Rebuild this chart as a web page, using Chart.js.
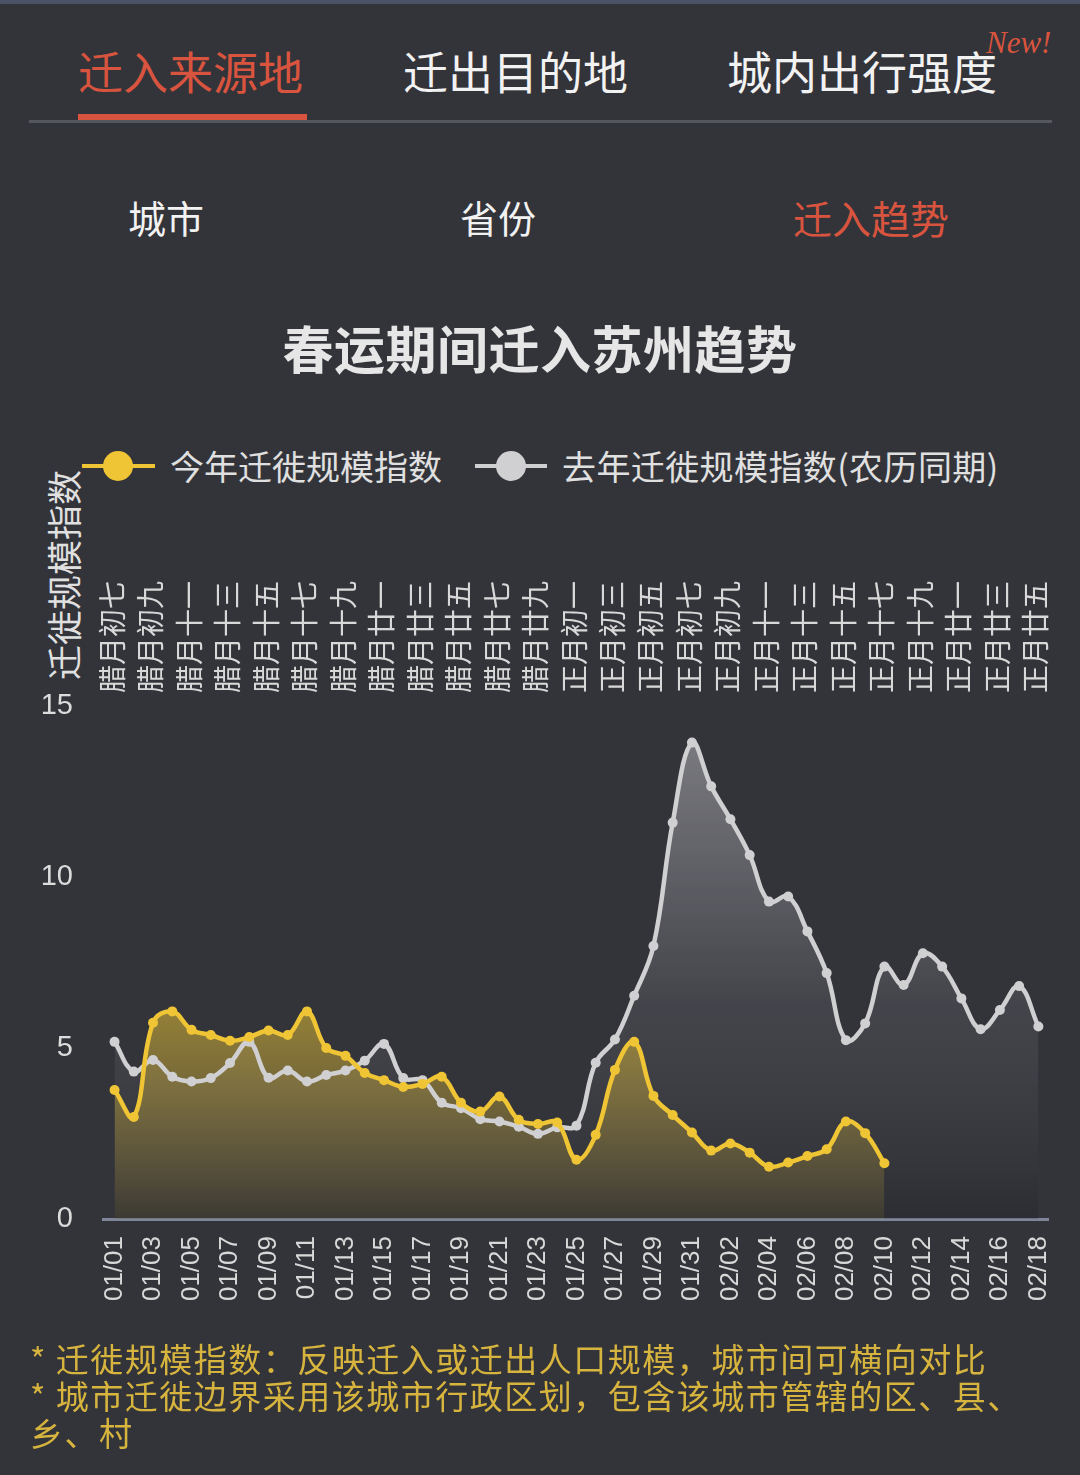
<!DOCTYPE html>
<html><head><meta charset="utf-8">
<script src="https://cdn.jsdelivr.net/npm/chart.js@4.4.1/dist/chart.umd.min.js"></script>
<style>
html,body{margin:0;padding:0;}
body{width:1080px;height:1475px;background:#33343a;position:relative;overflow:hidden;font-family:"Noto Sans CJK SC","Liberation Sans",sans-serif;}
.t{position:absolute;white-space:nowrap;line-height:1;transform:translateY(-50%);}
.ln{position:absolute;height:4px;}
.dot{position:absolute;width:30px;height:30px;border-radius:50%;}
</style></head><body>
<div style="position:absolute;left:0;top:0;width:1080px;height:4px;background:#4a5366"></div>
<div class="t" style="left:78px;top:70px;font-size:45px;color:#d9543e">迁入来源地</div>
<div class="t" style="left:403px;top:70px;font-size:45px;color:#f2f2f2">迁出目的地</div>
<div class="t" style="left:727px;top:70px;font-size:45px;color:#f2f2f2">城内出行强度</div>
<div class="t" style="left:986px;top:42px;font-size:31px;color:#d9543e;font-family:'Liberation Serif',serif;font-style:italic">New!</div>
<div style="position:absolute;left:29px;top:120px;width:1023px;height:3px;background:#55575e"></div>
<div style="position:absolute;left:78px;top:114px;width:229px;height:6px;background:#d9543e"></div>
<div class="t" style="left:128px;top:217px;font-size:38px;color:#f2f2f2">城市</div>
<div class="t" style="left:460px;top:217px;font-size:38px;color:#f2f2f2">省份</div>
<div class="t" style="left:793px;top:217px;font-size:39px;color:#d9543e">迁入趋势</div>
<div class="t" style="left:0;width:1080px;text-align:center;top:347px;font-size:51px;font-weight:bold;color:#e6e6e6;letter-spacing:0.5px">春运期间迁入苏州趋势</div>

<div class="ln" style="left:82px;top:464px;width:73px;background:#f0c535"></div>
<div class="dot" style="left:103px;top:451px;background:#f0c535"></div>
<div class="t" id="lg0" style="left:170px;top:466px;font-size:34px;color:#e0e0e0"></div>
<div class="ln" style="left:475px;top:464px;width:72px;background:#d0d0d2"></div>
<div class="dot" style="left:496px;top:451px;background:#d0d0d2"></div>
<div class="t" id="lg1" style="left:562px;top:466px;font-size:34px;color:#e0e0e0;letter-spacing:0.4px"></div>

<div id="ytitle" style="position:absolute;left:62px;top:575px;transform:translate(-50%,-50%) rotate(-90deg);white-space:nowrap;line-height:1;font-size:35px;color:#e0e0e0"></div>

<canvas id="c" width="1080" height="780" style="position:absolute;left:0;top:560px;width:1080px;height:780px"></canvas>

<div class="t" style="left:30px;top:1358px;font-size:33px;letter-spacing:1.5px;color:#d6b43e">* 迁徙规模指数：反映迁入或迁出人口规模，城市间可横向对比</div>
<div class="t" style="left:30px;top:1395px;font-size:33px;letter-spacing:1.5px;color:#d6b43e">* 城市迁徙边界采用该城市行政区划，包含该城市管辖的区、县、</div>
<div class="t" style="left:30px;top:1432px;font-size:33px;letter-spacing:1.5px;color:#d6b43e">乡、村</div>

<script>
const dates = ['01/01','01/02','01/03','01/04','01/05','01/06','01/07','01/08','01/09','01/10',
  '01/11','01/12','01/13','01/14','01/15','01/16','01/17','01/18','01/19','01/20',
  '01/21','01/22','01/23','01/24','01/25','01/26','01/27','01/28','01/29','01/30','01/31',
  '02/01','02/02','02/03','02/04','02/05','02/06','02/07','02/08','02/09','02/10',
  '02/11','02/12','02/13','02/14','02/15','02/16','02/17','02/18'];
const lunarDays = ['腊月初七','腊月初八','腊月初九','腊月初十','腊月十一','腊月十二','腊月十三','腊月十四','腊月十五','腊月十六',
  '腊月十七','腊月十八','腊月十九','腊月二十','腊月廿一','腊月廿二','腊月廿三','腊月廿四','腊月廿五','腊月廿六',
  '腊月廿七','腊月廿八','腊月廿九','腊月三十','正月初一','正月初二','正月初三','正月初四','正月初五','正月初六','正月初七',
  '正月初八','正月初九','正月初十','正月十一','正月十二','正月十三','正月十四','正月十五','正月十六','正月十七',
  '正月十八','正月十九','正月二十','正月廿一','正月廿二','正月廿三','正月廿四','正月廿五'];
const thisYear = [3.77,2.98,5.74,6.07,5.53,5.38,5.21,5.32,5.51,5.38,
  6.07,5.00,4.77,4.27,4.06,3.86,3.95,4.16,3.40,3.14,
  3.58,2.90,2.78,2.82,1.73,2.46,4.36,5.18,3.60,3.04,2.53,
  2.00,2.21,1.94,1.53,1.65,1.84,2.04,2.85,2.51,1.63];
const lastYear = [5.18,4.31,4.65,4.16,4.02,4.12,4.56,5.18,4.13,4.34,
  4.02,4.21,4.34,4.63,5.12,4.12,4.06,3.40,3.24,2.92,
  2.85,2.70,2.49,2.68,2.73,4.57,5.25,6.53,7.98,11.59,13.93,
  12.65,11.69,10.64,9.28,9.43,8.41,7.19,5.23,5.72,
  7.38,6.84,7.77,7.38,6.45,5.55,6.11,6.81,5.63];
const yTicks = [0,5,10,15];
const seriesNames = ['今年迁徙规模指数','去年迁徙规模指数(农历同期)'];
const yTitle = '迁徙规模指数';

document.getElementById('lg0').textContent = seriesNames[0];
document.getElementById('lg1').textContent = seriesNames[1];
document.getElementById('ytitle').textContent = yTitle;

Chart.defaults.font.family = '"Liberation Sans","Noto Sans CJK SC",sans-serif';

const toPts = arr => arr.map((v, i) => ({x: i, y: v}));
const tickIdx = dates.map((_, i) => i).filter(i => i % 2 === 0);
const setXTicks = s => { s.ticks = tickIdx.map(i => ({value: i})); };

function yellowFill(c) {
  const ch = c.chart;
  if (!ch.chartArea) return 'rgba(0,0,0,0)';
  const y = ch.scales.y;
  const g = ch.ctx.createLinearGradient(0, y.getPixelForValue(6.2), 0, y.getPixelForValue(0));
  g.addColorStop(0, 'rgba(240,200,55,0.52)');
  g.addColorStop(1, 'rgba(240,200,55,0.08)');
  return g;
}
function grayFill(c) {
  const ch = c.chart;
  if (!ch.chartArea) return 'rgba(0,0,0,0)';
  const y = ch.scales.y;
  const g = ch.ctx.createLinearGradient(0, y.getPixelForValue(14), 0, y.getPixelForValue(0));
  g.addColorStop(0, 'rgba(220,220,225,0.42)');
  g.addColorStop(0.55, 'rgba(220,220,225,0.10)');
  g.addColorStop(1, 'rgba(10,10,15,0.15)');
  return g;
}

new Chart(document.getElementById('c'), {
  type: 'line',
  data: {
    datasets: [
      {label: seriesNames[0], data: toPts(thisYear), borderColor: '#f0c535', borderWidth: 4.5,
       pointBackgroundColor: '#f0c535', pointBorderWidth: 0, pointRadius: 5, tension: 0.4,
       fill: 'origin', backgroundColor: yellowFill},
      {label: seriesNames[1], data: toPts(lastYear), borderColor: '#d0d0d2', borderWidth: 4.5,
       pointBackgroundColor: '#d0d0d2', pointBorderWidth: 0, pointRadius: 5, tension: 0.4,
       fill: 'origin', backgroundColor: grayFill}
    ]
  },
  options: {
    responsive: false, animation: false, devicePixelRatio: 1,
    layout: {padding: {left: 0, right: 32, top: 0, bottom: 0}},
    plugins: {legend: {display: false}, tooltip: {enabled: false}, filler: {drawTime: 'beforeDatasetsDraw'}},
    scales: {
      x: {type: 'linear', position: 'bottom', min: -0.6, max: 48.5,
          afterBuildTicks: setXTicks, afterFit: s => { s.height = 121; },
          grid: {display: false}, border: {display: true, color: '#7d8799', width: 3},
          ticks: {autoSkip: false, maxRotation: 90, minRotation: 90, padding: 9, color: '#d8d8d8',
                  font: {size: 26}, callback: v => dates[v]}},
      x2: {type: 'linear', position: 'top', min: -0.6, max: 48.5,
          afterBuildTicks: setXTicks, afterFit: s => { s.height = 146; },
          grid: {display: false}, border: {display: false},
          ticks: {autoSkip: false, maxRotation: 90, minRotation: 90, padding: 5, labelOffset: 31, color: '#d8d8d8',
                  font: {size: 28, family: '"Noto Sans CJK SC",sans-serif'},
                  callback: v => lunarDays[v]}},
      y: {min: 0, max: 15, afterBuildTicks: s => { s.ticks = yTicks.map(v => ({value: v})); },
          afterFit: s => { s.width = 103; },
          grid: {display: false}, border: {display: false},
          ticks: {padding: 22, color: '#dcdcdc', font: {size: 29}}}
    }
  }
});
</script>
</body></html>
